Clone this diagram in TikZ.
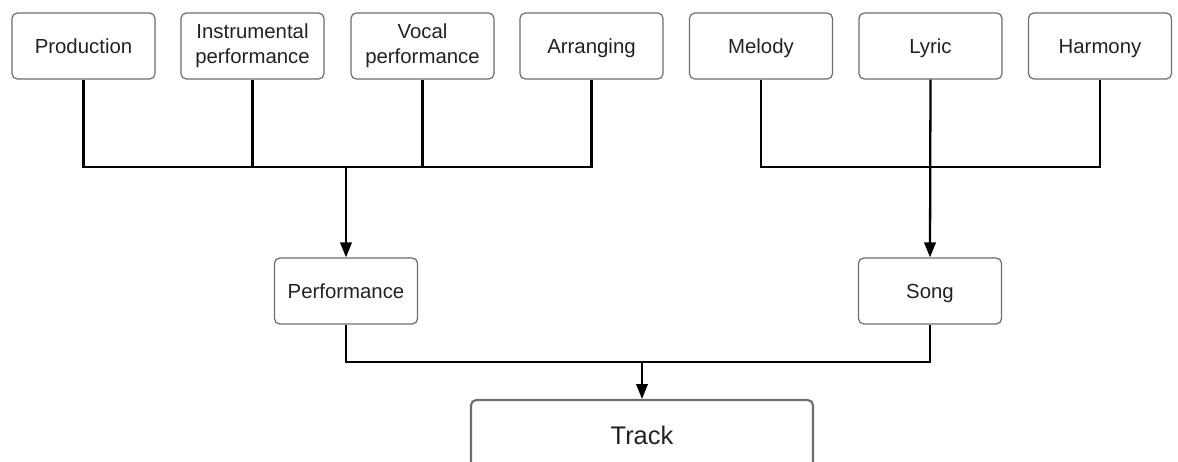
\documentclass[tikz,border=0pt]{standalone}
\usepackage{fontspec}
\setmainfont{Liberation Sans}
\usetikzlibrary{arrows.meta}
\definecolor{boxline}{HTML}{6E6E6E}
\definecolor{ink}{HTML}{222222}
\tikzset{
  box/.style={draw=boxline, line width=0.7pt, rounded corners=3pt, fill=white,
    minimum width=143*0.02cm, minimum height=66*0.02cm, inner sep=1pt,
    align=center, text=ink, font=\fontsize{11.6}{14.2}\selectfont},
  oneline/.style={text height=8.3pt, text depth=0pt},
  bigbox/.style={box, line width=1.2pt, minimum width=342*0.02cm,
    minimum height=70*0.02cm, text height=10.4pt, text depth=0pt,
    font=\fontsize{14.5}{17}\selectfont},
  conn/.style={line width=1.3pt, black}
}
\begin{document}
\begin{tikzpicture}[x=0.02cm, y=-0.02cm, line join=miter, >={Triangle[length=8.5pt,width=6.5pt]}]
	\clip (0,0) rectangle (1178,461);
	% top row
	\node[box,oneline] (prod) at (83.5,46) {Production};
	\node[box] (ins) at (252.5,46) {Instrumental\\performance};
	\node[box] (voc) at (422.5,46) {Vocal\\performance};
	\node[box,oneline] (arr) at (591.5,46) {Arranging};
	\node[box,oneline] (mel) at (761,46) {Melody};
	\node[box,oneline] (lyr) at (930.5,46) {Lyric};
	\node[box,oneline] (har) at (1100,46) {Harmony};
	% middle row
	\node[box,oneline] (perf) at (346,291) {Performance};
	\node[box,oneline] (song) at (930,291) {Song};
	% bottom
	\node[bigbox] (track) at (642,435) {Track};
	% bus points
	\coordinate (lbus) at (346,167);
	\coordinate (rbus) at (930,167);
	\coordinate (tbus) at (642,362);
	\draw[conn] (prod.south) |- (lbus) -| (arr.south);
	\foreach \n in {ins,voc}
	\draw[conn] (\n.south) -- (\n.south |- lbus);
	\draw[conn,->] (lbus) -- (perf.north);
	\draw[conn] (mel.south) |- (rbus) -| (har.south);
	\draw[conn,->] (lyr.south) -- (song.north);
	\draw[conn] (perf.south) |- (tbus) -| (song.south);
	\draw[conn,->] (tbus) -- (track.north);
\end{tikzpicture}
\end{document}
